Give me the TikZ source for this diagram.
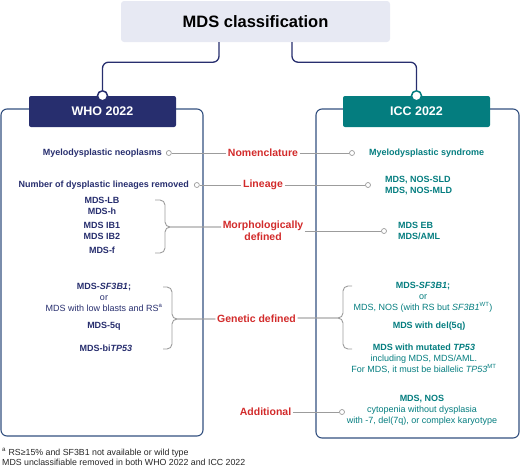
\documentclass[tikz,border=0pt]{standalone}
\usepackage{fontspec}
\setmainfont{Liberation Sans}
\usepackage{tikz}
\usetikzlibrary{positioning,calc}
\usepackage{xcolor}
\definecolor{whonavy}{HTML}{272E6E}
\definecolor{iccteal}{HTML}{047D7F}
\definecolor{catred}{HTML}{D22B2B}
\definecolor{linkgray}{HTML}{9C9C9C}
\definecolor{frameblue}{HTML}{33507F}
\definecolor{titlefill}{HTML}{E7E9F3}

\begin{document}
\begin{tikzpicture}[x=1pt, y=-1pt,
    whotxt/.style={inner sep=0pt, text=whonavy, font=\fontsize{9}{11}\selectfont\bfseries},
    icctxt/.style={inner sep=0pt, text=iccteal, font=\fontsize{9}{11}\selectfont\bfseries},
    cat/.style={inner sep=1.5pt, text=catred, align=center, font=\fontsize{10.5}{12}\selectfont\bfseries},
    head/.style={minimum width=147pt, minimum height=31pt, rounded corners=2pt, text=white, font=\fontsize{12.5}{14}\selectfont\bfseries},
    frame/.style={draw=frameblue, line width=1.1pt, rounded corners=6pt},
    dot/.style={circle, draw=linkgray, fill=white, line width=0.7pt, inner sep=0pt, minimum size=5pt},
    knob/.style={circle, fill=white, line width=1.5pt, inner sep=0pt, minimum size=10pt},
    link/.style={draw=linkgray, line width=0.9pt},
    brace/.style={draw=linkgray, line width=0.9pt, rounded corners=5pt},
    trunk/.style={draw=whonavy, line width=1.3pt, rounded corners=6pt}
]
    \useasboundingbox (0,0) rectangle (520,467);

    % title and the two branches
    \node[fill=titlefill, rounded corners=3pt, minimum width=269pt, minimum height=41pt,
          font=\fontsize{16.5}{18}\selectfont\bfseries] (title) at (255.5,21.5) {MDS classification};

    \draw[frame] (1,109) rectangle (203,436);
    \draw[frame] (316,109) rectangle (519,438);

    \node[head, fill=whonavy] (who) at (102.5,111.5) {WHO 2022};
    \node[head, fill=iccteal] (icc) at (416.5,111.5) {ICC 2022};
    \node[knob, draw=whonavy] (whoKnob) at (who.north) {};
    \node[knob, draw=iccteal] (iccKnob) at (icc.north) {};

    \draw[trunk] ([xshift=-36.5pt]title.south) -- ++(0,20) -| (whoKnob);
    \draw[trunk] ([xshift=36.5pt]title.south) -- ++(0,20) -| (iccKnob);

    % nomenclature
    \node[whotxt, anchor=east] (neo) at (162,153) {Myelodysplastic neoplasms};
    \node[dot, right=4pt of neo] (neoDot) {};
    \node[cat] (nom) at (263,153) {Nomenclature};
    \node[dot] (synDot) at (352,153) {};
    \node[icctxt, right=14pt of synDot] (syn) {Myelodysplastic syndrome};
    \draw[link] (neoDot) -- (nom) -- (synDot);

    % lineage
    \node[whotxt, anchor=east] (lin) at (189,185) {Number of dysplastic lineages removed};
    \node[dot, right=5pt of lin] (linDot) {};
    \node[cat] (lineage) at (263,185) {Lineage};
    \node[dot] (sldDot) at (368,185) {};
    \node[icctxt, anchor=west, align=left] (sld) at (385,185.5) {MDS, NOS-SLD\\MDS, NOS-MLD};
    \draw[link] (linDot) -- (lineage) -- (sldDot);

    % morphology
    \node[whotxt, align=center] (lbh) at (102,206) {MDS-LB\\MDS-h};
    \node[whotxt, align=center] (ib) at (102,231) {MDS IB1\\MDS IB2};
    \node[whotxt] (mdsf) at (102,250) {MDS-f};
    \node[cat] (morph) at (263,231) {Morphologically\\defined};
    \coordinate (morphTip) at (165,227);
    \draw[brace] (155,200) -| (morphTip) -- (morph.west |- morphTip);
    \draw[brace] (155,253) -| (morphTip) -- (morph.west |- morphTip);
    \node[dot] (ebDot) at (384,231) {};
    \node[icctxt, anchor=west, align=left] (eb) at (398,231) {MDS EB\\MDS/AML};
    \draw[link] (morph.east |- ebDot) -- (ebDot);

    % genetics
    \node[whotxt, align=center] (sfL) at (104,297) {MDS-\textit{SF3B1};\\{\mdseries or}\\{\mdseries MDS with low blasts and RS\textsuperscript{a}}};
    \node[whotxt] (q5) at (104,326) {MDS-5q};
    \node[whotxt] (biTP) at (106,348) {MDS-bi\textit{TP53}};
    \node[cat] (gen) at (256.5,319) {Genetic defined};
    \coordinate (genTipL) at (172,319);
    \draw[brace] (163,287) -| (genTipL) -- (gen.west |- genTipL);
    \draw[brace] (163,349) -| (genTipL) -- (gen.west |- genTipL);
    \coordinate (genTipR) at (343,318);
    \draw[brace] (352,286) -| (genTipR) -- (gen.east |- genTipR);
    \draw[brace] (352,349) -| (genTipR) -- (gen.east |- genTipR);
    \node[icctxt, align=center] (sfR) at (423,297) {MDS-\textit{SF3B1};\\{\mdseries or}\\{\mdseries MDS, NOS (with RS but \textit{SF3B1}\textsuperscript{WT})}};
    \node[icctxt] (del5) at (429,326) {MDS with del(5q)};
    \node[icctxt, align=center] (tpR) at (424,359) {MDS with mutated \textit{TP53}\\{\mdseries including MDS, MDS/AML.}\\{\mdseries For MDS, it must be biallelic \textit{TP53}\textsuperscript{MT}}};

    % additional
    \node[cat] (add) at (265.5,412) {Additional};
    \node[dot] (nosDot) at (342,412) {};
    \node[icctxt, align=center] (nos) at (422,410.5) {MDS, NOS\\{\mdseries cytopenia without dysplasia}\\{\mdseries with -7, del(7q), or complex karyotype}};
    \draw[link] (add) -- (nosDot);

    % notes
    \node[anchor=west, align=left, inner sep=0pt, text=black!85, font=\fontsize{8.8}{10.5}\selectfont] (notes) at (2,457)
        {\textsuperscript{a} RS≥15\% and SF3B1 not available or wild type\\MDS unclassifiable removed in both WHO 2022 and ICC 2022};
\end{tikzpicture}
\end{document}
